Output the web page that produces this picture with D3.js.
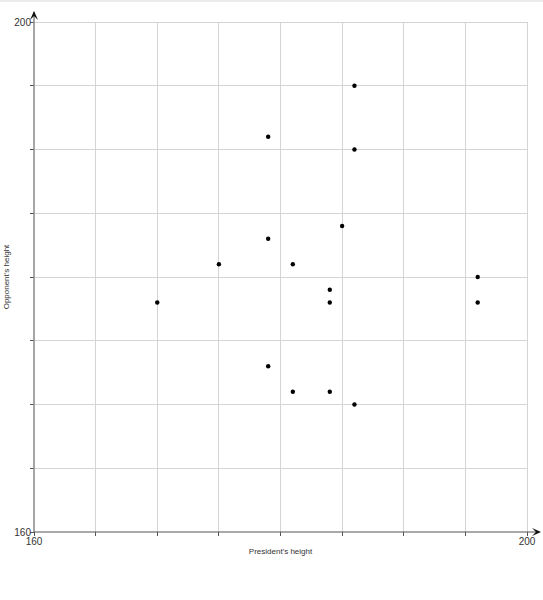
<!DOCTYPE html>
<html><head><meta charset="utf-8">
<script src="https://cdn.jsdelivr.net/npm/d3@7/dist/d3.min.js"></script>
<style>body{margin:0;background:#fff;}svg{display:block;font-family:"Liberation Sans",Arial,sans-serif;}</style>
</head><body>
<script>
const presidentHeight = [170,175,179,179,179,181,181,184,184,184,185,186,186,186,196,196];
const opponentHeight  = [178,181,191,183,173,181,171,179,178,171,184,195,190,170,180,178];
const xTickLabels = [160,200];
const yTickLabels = [160,200];
const gridValues = [160,165,170,175,180,185,190,195,200];
const xTitle = "President's height";
const yTitle = "Opponent's height";

const W=543,H=600;
const svg=d3.select("body").append("svg").attr("width",W).attr("height",H);
svg.append("rect").attr("x",0).attr("y",0).attr("width",W).attr("height",2).attr("fill","#ececec");

const x=d3.scaleLinear().domain([160,200]).range([34,527]);
const y=d3.scaleLinear().domain([160,200]).range([532,22]);

const g=svg.append("g");
// grid
g.selectAll(".gx").data(gridValues.slice(1)).enter().append("line")
 .attr("x1",d=>x(d)).attr("x2",d=>x(d)).attr("y1",y(200)).attr("y2",y(160))
 .attr("stroke","#d4d4d4").attr("stroke-width",1).attr("shape-rendering","crispEdges");
g.selectAll(".gy").data(gridValues.slice(1)).enter().append("line")
 .attr("y1",d=>y(d)).attr("y2",d=>y(d)).attr("x1",x(160)).attr("x2",x(200))
 .attr("stroke","#d4d4d4").attr("stroke-width",1).attr("shape-rendering","crispEdges");

// small ticks
g.selectAll(".ty").data(gridValues).enter().append("line")
 .attr("x1",x(160)-4).attr("x2",x(160)).attr("y1",d=>y(d)).attr("y2",d=>y(d))
 .attr("stroke","#555").attr("shape-rendering","crispEdges");
g.selectAll(".tx").data(gridValues).enter().append("line")
 .attr("x1",d=>x(d)).attr("x2",d=>x(d)).attr("y1",y(160)).attr("y2",y(160)+4)
 .attr("stroke","#555").attr("shape-rendering","crispEdges");

// axes lines
g.append("line").attr("x1",x(160)).attr("x2",x(160)).attr("y1",y(160)).attr("y2",12)
 .attr("stroke","#888").attr("stroke-width",1.5);
g.append("line").attr("x1",x(160)).attr("x2",538).attr("y1",y(160)).attr("y2",y(160))
 .attr("stroke","#555").attr("stroke-width",1.2);
// arrows
g.append("path").attr("d",`M${x(160)-4},20 L${x(160)},11 L${x(160)+4},20 L${x(160)},16 Z`).attr("fill","#111");
g.append("path").attr("d",`M532,${y(160)-4} L541,${y(160)} L532,${y(160)+4} L536,${y(160)} Z`).attr("fill","#111");

// tick labels
g.selectAll(".ly").data(yTickLabels).enter().append("text")
 .attr("x",x(160)-3).attr("y",d=>y(d)+3.5).attr("text-anchor","end")
 .attr("font-size",10).attr("fill","#333").text(d=>d);
g.selectAll(".lx").data(xTickLabels).enter().append("text")
 .attr("x",d=>x(d)).attr("y",y(160)+13).attr("text-anchor","middle")
 .attr("font-size",10).attr("fill","#333").text(d=>d);

// titles
g.append("text").attr("x",(x(160)+x(200))/2).attr("y",554).attr("text-anchor","middle")
 .attr("font-size",8).attr("fill","#333").text(xTitle);
g.append("text").attr("transform",`translate(9,${(y(160)+y(200))/2}) rotate(-90)`)
 .attr("text-anchor","middle").attr("font-size",8).attr("fill","#333").text(yTitle);

// points
g.selectAll(".pt").data(presidentHeight.map((p,i)=>[p,opponentHeight[i]])).enter().append("circle")
 .attr("cx",d=>x(d[0])).attr("cy",d=>y(d[1])).attr("r",2.2).attr("fill","#000");
</script>
</body></html>
